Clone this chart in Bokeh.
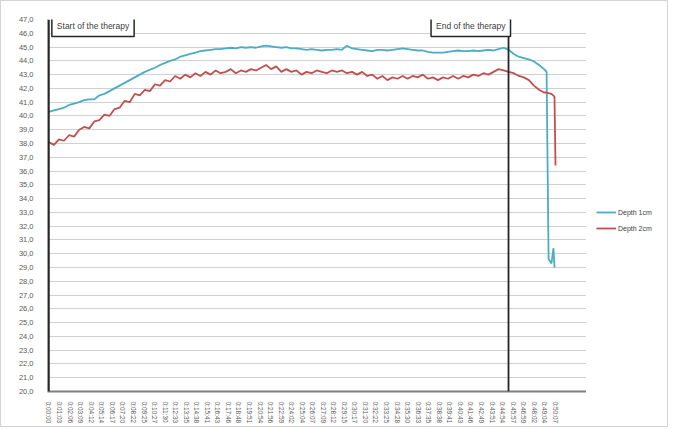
from bokeh.plotting import figure
from bokeh.layouts import row
from bokeh.models import Range1d, FixedTicker, Span, Label, Legend, LegendItem
from bokeh.embed import file_html
from bokeh.resources import INLINE

# ---------------- data ----------------
time_labels = ["0:00:00", "0:01:03", "0:02:06", "0:03:09", "0:04:12", "0:05:14", "0:06:17",
               "0:07:20", "0:08:22", "0:09:25", "0:10:27", "0:11:30", "0:12:33", "0:13:35",
               "0:14:38", "0:15:41", "0:16:43", "0:17:46", "0:18:48", "0:19:51", "0:20:54",
               "0:21:56", "0:22:59", "0:24:02", "0:25:04", "0:26:07", "0:27:09", "0:28:12",
               "0:29:15", "0:30:17", "0:31:20", "0:32:22", "0:33:25", "0:34:28", "0:35:30",
               "0:36:33", "0:37:35", "0:38:38", "0:39:41", "0:40:43", "0:41:46", "0:42:49",
               "0:43:51", "0:44:54", "0:45:57", "0:46:59", "0:48:02", "0:49:04", "0:50:07"]

sample_seconds = [i * 30 for i in range(99)]  # regular 30 s sampling of the readings

temp_1cm_main = [40.3, 40.4, 40.5, 40.6, 40.8, 40.9, 41.0, 41.15, 41.2, 41.2,
                 41.5, 41.6, 41.8, 42.0, 42.2, 42.4, 42.6, 42.8, 43.0, 43.2,
                 43.35, 43.5, 43.7, 43.85, 44.0, 44.1, 44.3, 44.4, 44.5, 44.6,
                 44.7, 44.75, 44.8, 44.85, 44.85, 44.9, 44.95, 44.9, 45.0, 44.95,
                 45.0, 44.95, 45.05, 45.1, 45.05, 45.0, 44.95, 45.0, 44.9, 44.9,
                 44.85, 44.8, 44.85, 44.8, 44.75, 44.8, 44.8, 44.85, 44.8, 45.1,
                 44.9, 44.85, 44.8, 44.75, 44.7, 44.8, 44.8, 44.75, 44.8, 44.85,
                 44.9, 44.85, 44.8, 44.75, 44.75, 44.65, 44.6, 44.6, 44.6, 44.65,
                 44.7, 44.75, 44.7, 44.7, 44.75, 44.7, 44.75, 44.8, 44.75, 44.85,
                 44.95, 44.8, 44.5, 44.3, 44.2, 44.1, 43.95, 43.7, 43.4]
tail_seconds_1cm = [2955, 2967, 2984, 2996, 3002]
tail_temp_1cm = [43.2, 29.6, 29.3, 30.4, 29.0]

temp_2cm_main = [38.1, 37.9, 38.3, 38.2, 38.6, 38.5, 39.0, 39.2, 39.1, 39.6,
                 39.7, 40.1, 40.0, 40.5, 40.6, 41.1, 41.0, 41.6, 41.5, 41.9,
                 41.8, 42.3, 42.2, 42.6, 42.5, 42.9, 42.7, 43.0, 42.8, 43.1,
                 42.9, 43.2, 43.0, 43.3, 43.1, 43.2, 43.4, 43.1, 43.3, 43.2,
                 43.4, 43.3, 43.5, 43.7, 43.4, 43.6, 43.2, 43.4, 43.2, 43.3,
                 43.0, 43.2, 43.1, 43.3, 43.2, 43.1, 43.3, 43.2, 43.3, 43.1,
                 43.2, 43.0, 43.2, 42.9, 43.0, 42.7, 42.9, 42.6, 42.8, 42.7,
                 42.9, 42.7, 42.9, 42.8, 43.0, 42.7, 42.8, 42.6, 42.8, 42.7,
                 42.9, 42.7, 42.9, 42.8, 43.0, 42.9, 43.1, 43.0, 43.2, 43.4,
                 43.3, 43.2, 43.1, 42.9, 42.8, 42.6, 42.2, 41.9, 41.7]
tail_seconds_2cm = [2955, 2984, 3002, 3008]
tail_temp_2cm = [41.7, 41.6, 41.4, 36.4]

series_names = ["Depth 1cm", "Depth 2cm"]
series_colors = ["#4bacc6", "#c0504d"]

therapy_start = "0:00:00"
therapy_end = "0:45:29"
annotation_level = 46.5  # vertical centre of the two therapy boxes (°C scale)

y_ticks = list(range(20, 48))


def to_seconds(s):
    h, m, sec = (int(v) for v in s.split(":"))
    return h * 3600 + m * 60 + sec


x1 = sample_seconds + tail_seconds_1cm
y1 = temp_1cm_main + tail_temp_1cm
x2 = sample_seconds + tail_seconds_2cm
y2 = temp_2cm_main + tail_temp_2cm

# ---------------- main figure ----------------
FONT = "Liberation Sans"
p = figure(width=585, height=425, output_backend="svg", toolbar_location=None,
           x_range=Range1d(-8, 3192), y_range=Range1d(20, 47),
           min_border_left=46, min_border_top=18, min_border_right=0, min_border_bottom=34)
p.outline_line_color = None
p.background_fill_color = "white"

p.xgrid.grid_line_color = None
p.ygrid.grid_line_color = "#d0d0d0"
p.ygrid.grid_line_width = 1.2

p.yaxis.ticker = FixedTicker(ticks=y_ticks)
p.yaxis.major_label_overrides = {v: f"{v:.1f}".replace(".", ",") for v in y_ticks}
p.yaxis.major_label_text_font = FONT
p.yaxis.major_label_text_font_size = "7.5px"
p.yaxis.major_label_text_color = "#595959"
p.yaxis.major_tick_line_color = None
p.yaxis.minor_tick_line_color = None
p.yaxis.axis_line_color = "#a0a0a0"
p.yaxis.major_label_standoff = 8

tick_secs = [to_seconds(s) for s in time_labels]
p.xaxis.ticker = FixedTicker(ticks=tick_secs)
p.xaxis.major_label_overrides = {t: s for t, s in zip(tick_secs, time_labels)}
p.xaxis.major_label_orientation = "vertical"
p.xaxis.major_label_text_font = FONT
p.xaxis.major_label_text_font_size = "6.5px"
p.xaxis.major_label_text_color = "#595959"
p.xaxis.major_tick_line_color = None
p.xaxis.minor_tick_line_color = None
p.xaxis.axis_line_color = "#7f7f7f"
p.xaxis.axis_line_width = 2
p.xaxis.major_label_standoff = 4

p.line(x1, y1, line_color=series_colors[0], line_width=1.8)
p.line(x2, y2, line_color=series_colors[1], line_width=1.8)

for t in (therapy_start, therapy_end):
    p.add_layout(Span(location=to_seconds(t), dimension="height",
                      line_color="#262626", line_width=1.8))

p.add_layout(Label(x=to_seconds(therapy_start), y=annotation_level,
                   x_offset=3, text="Start of the therapy", text_font=FONT,
                   text_font_size="8.5px", text_color="#404040", text_baseline="middle",
                   border_line_color="#262626", border_line_width=1.5,
                   background_fill_color="white", padding=5))
p.add_layout(Label(x=to_seconds(therapy_end), y=annotation_level,
                   x_offset=2, text="End of the therapy", text_font=FONT,
                   text_font_size="8.5px", text_color="#404040", text_align="right",
                   text_baseline="middle",
                   border_line_color="#262626", border_line_width=1.5,
                   background_fill_color="white", padding=5))

# ---------------- legend panel (separate narrow figure) ----------------
lf = figure(width=81, height=425, output_backend="svg", toolbar_location=None,
            min_border=0, x_range=Range1d(0, 1), y_range=Range1d(0, 1))
lf.axis.visible = False
lf.grid.visible = False
lf.outline_line_color = None
items = []
for name, col in zip(series_names, series_colors):
    # off-range proxy renderer, only used to draw the legend swatch
    rr = lf.line([5, 6], [5, 6], line_color=col, line_width=1.8)
    items.append(LegendItem(label=name, renderers=[rr]))
legend = Legend(items=items, location=(10, 158), border_line_color=None,
                background_fill_alpha=0, label_text_font=FONT, label_text_font_size="7px",
                label_text_color="#404040", glyph_width=20, glyph_height=10,
                label_height=10, label_standoff=2, spacing=6, padding=3, margin=0)
lf.add_layout(legend, "center")

layout = row(p, lf, spacing=0)
layout.styles = {"border": "1px solid #d4d4d4"}

open("out.html", "w").write(file_html(layout, INLINE))
